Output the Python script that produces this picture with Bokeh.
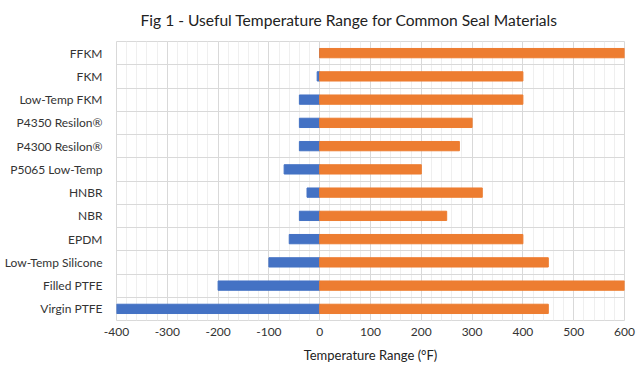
from bokeh.plotting import figure
from bokeh.models import ColumnDataSource, FixedTicker, Range1d, Title
from bokeh.embed import file_html
from bokeh.resources import INLINE

materials = ["FFKM", "FKM", "Low-Temp FKM", "P4350 Resilon®", "P4300 Resilon®",
             "P5065 Low-Temp", "HNBR", "NBR", "EPDM", "Low-Temp Silicone",
             "Filled PTFE", "Virgin PTFE"]
low_temp = [0, -5, -40, -40, -40, -70, -25, -40, -60, -100, -200, -400]
high_temp = [600, 400, 400, 300, 275, 200, 320, 250, 400, 450, 600, 450]
x_ticks = [-400, -300, -200, -100, 0, 100, 200, 300, 400, 500, 600]

n = len(materials)
ypos = [n - i - 0.5 for i in range(n)]
zeros = [0] * n
src = ColumnDataSource(dict(y=ypos, low=low_temp, high=high_temp, zero=zeros, name=materials))

FONT = "Lato"
p = figure(width=640, height=377, output_backend="svg", toolbar_location=None,
           x_range=Range1d(x_ticks[0], x_ticks[-1]), y_range=Range1d(0, n),
           min_border_left=116, min_border_right=16, min_border_top=40, min_border_bottom=57)

p.title = Title(text="Fig 1 - Useful Temperature Range for Common Seal Materials",
                align="left", text_font=FONT, text_font_size="15.6px",
                text_font_style="normal", text_color="#222222", offset=24,
                vertical_align="top")
p.title.standoff = 21

p.hbar(y="y", left="low", right="zero", height=0.4, color="#4472C4", source=src)
p.hbar(y="y", left="zero", right="high", height=0.4, color="#ED7D31", source=src)

# x axis
p.xaxis.ticker = FixedTicker(ticks=x_ticks,
                             minor_ticks=[v for v in range(x_ticks[0], x_ticks[-1] + 1, 20)])
p.xaxis.major_label_overrides = {t: str(t) for t in x_ticks}
p.xaxis.axis_label = "Temperature Range (°F)"
p.xaxis.axis_label_text_font = FONT
p.xaxis.axis_label_text_font_size = "13px"
p.xaxis.axis_label_text_font_style = "normal"
p.xaxis.axis_label_text_color = "#222222"
p.xaxis.axis_label_standoff = 8
p.xaxis.major_label_text_font = FONT
p.xaxis.major_label_text_font_size = "12px"
p.xaxis.major_label_text_color = "#333333"
p.xaxis.axis_line_color = None
p.xaxis.major_tick_line_color = None
p.xaxis.minor_tick_line_color = None
p.xaxis.major_label_standoff = 1

# y axis: labels at row centers, grid at row boundaries
p.yaxis.ticker = FixedTicker(ticks=ypos)
p.yaxis.major_label_overrides = {y: m for y, m in zip(ypos, materials)}
p.yaxis.major_label_text_font = FONT
p.yaxis.major_label_text_font_size = "12px"
p.yaxis.major_label_text_color = "#333333"
p.yaxis.axis_line_color = None
p.yaxis.major_tick_line_color = None
p.yaxis.minor_tick_line_color = None
p.yaxis.major_label_standoff = 8

p.ygrid.ticker = FixedTicker(ticks=list(range(n + 1)))
p.ygrid.grid_line_color = "#d9d9d9"
p.xgrid.grid_line_color = "#d9d9d9"
p.xgrid.minor_grid_line_color = "#efefef"

p.outline_line_color = "#d9d9d9"
p.background_fill_color = "white"
p.border_fill_color = "white"

open("out.html", "w").write(file_html(p, INLINE))
